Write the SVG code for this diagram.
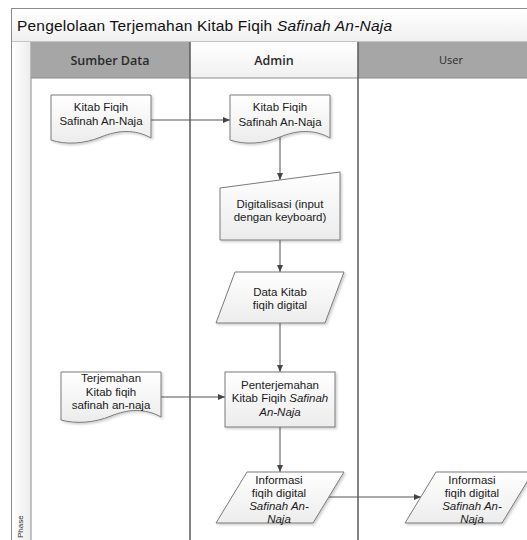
<svg xmlns="http://www.w3.org/2000/svg" width="527" height="540" viewBox="0 0 527 540">
<style>
.t{font-family:"Liberation Sans",Arial,sans-serif;font-size:11.5px;fill:#1a1a1a;text-anchor:middle}
.i{font-style:italic}
.h{font-family:"Open Sans","Liberation Sans",Arial,sans-serif;font-size:12.5px;font-weight:600;fill:#2a2a2a;text-anchor:middle}
.shape{fill:url(#sg);stroke:#7a7a7a;stroke-width:1}
.lane{stroke:#5a5a5a;stroke-width:1.5;fill:none}
.conn{stroke:#555;stroke-width:1;fill:none}
</style>
<defs>
<linearGradient id="sg" x1="0" y1="0" x2="0" y2="1"><stop offset="0" stop-color="#ffffff"/><stop offset="1" stop-color="#ececec"/></linearGradient>
<linearGradient id="hg" x1="0" y1="0" x2="0" y2="1"><stop offset="0" stop-color="#ffffff"/><stop offset="1" stop-color="#f0f0f0"/></linearGradient>
<linearGradient id="stripg" x1="0" y1="0" x2="1" y2="0"><stop offset="0" stop-color="#ffffff"/><stop offset="1" stop-color="#ececec"/></linearGradient>
<filter id="sh" x="-10%" y="-10%" width="130%" height="130%"><feDropShadow dx="1.5" dy="1.5" stdDeviation="1" flood-color="#000" flood-opacity="0.2"/></filter>
<marker id="ah" markerWidth="8" markerHeight="8" refX="7" refY="4" orient="auto" markerUnits="userSpaceOnUse"><path d="M0,1 L7,4 L0,7 Z" fill="#444"/></marker>
</defs>
<rect width="527" height="540" fill="#fff"/>
<g id="frame">
<rect x="11.5" y="8.5" width="530" height="540" fill="#fff" stroke="#8c8c8c"/>
<rect x="12" y="9" width="520" height="33" fill="url(#hg)"/>
<line x1="11" y1="42" x2="527" y2="42" stroke="#999"/>
<text x="17" y="31" font-family="'Liberation Sans',Arial,sans-serif" font-size="15.5" fill="#111" textLength="375" lengthAdjust="spacing">Pengelolaan Terjemahan Kitab Fiqih <tspan font-style="italic">Safinah An-Naja</tspan></text>
<rect x="12" y="42" width="19" height="500" fill="url(#stripg)"/>
<line x1="31" y1="42" x2="31" y2="540" stroke="#8c8c8c"/>
<text transform="translate(23,538) rotate(-90)" font-family="'Liberation Sans',Arial,sans-serif" font-size="8" fill="#333">Phase</text>
</g>
<g id="lane-sumber">
<rect x="31" y="42" width="159" height="36" fill="#a6a6a6"/>
<text class="h" x="110" y="65">Sumber Data</text>
</g>
<g id="lane-admin">
<rect x="190" y="42" width="168" height="36" fill="url(#hg)"/>
<text class="h" x="274" y="65">Admin</text>
</g>
<g id="lane-user">
<rect x="358" y="42" width="180" height="36" fill="#a6a6a6"/>
<text class="h" x="451" y="64" style="font-weight:normal;font-size:11px">User</text>
</g>
<g id="lanelines">
<line x1="31" y1="78" x2="527" y2="78" stroke="#8c8c8c"/>
<line class="lane" x1="190" y1="42" x2="190" y2="540"/>
<line class="lane" x1="358" y1="42" x2="358" y2="540"/>
</g>
<g id="connectors">
<line class="conn" x1="151" y1="120" x2="230" y2="120" marker-end="url(#ah)"/>
<line class="conn" x1="280" y1="137" x2="280" y2="180" marker-end="url(#ah)"/>
<line class="conn" x1="280" y1="240" x2="280" y2="272" marker-end="url(#ah)"/>
<line class="conn" x1="280" y1="323" x2="280" y2="372" marker-end="url(#ah)"/>
<line class="conn" x1="161" y1="397" x2="225" y2="397" marker-end="url(#ah)"/>
<line class="conn" x1="280" y1="427" x2="280" y2="472" marker-end="url(#ah)"/>
<line class="conn" x1="329" y1="497" x2="421" y2="497" marker-end="url(#ah)"/>
</g>
<g id="doc-kitab-sumber">
<path class="shape" filter="url(#sh)" d="M51,95 H151 V138 C135,129 118,130 101,137 C84,144 66,145 51,140 Z"/>
<text class="t" x="101" y="111">Kitab Fiqih</text>
<text class="t" x="101" y="125">Safinah An-Naja</text>
</g>
<g id="doc-kitab-admin">
<path class="shape" filter="url(#sh)" d="M230,95 H330 V138 C314,129 297,130 280,137 C263,144 245,145 230,140 Z"/>
<text class="t" x="280" y="111">Kitab Fiqih</text>
<text class="t" x="280" y="126">Safinah An-Naja</text>
</g>
<g id="digitalisasi">
<path class="shape" filter="url(#sh)" d="M220,188 L340,172 V240 H220 Z"/>
<text class="t" x="280" y="208">Digitalisasi (input</text>
<text class="t" x="280" y="221">dengan keyboard)</text>
</g>
<g id="data-kitab">
<path class="shape" filter="url(#sh)" d="M235,272 H344 L325,323 H216 Z"/>
<text class="t" x="280" y="296">Data Kitab</text>
<text class="t" x="280" y="309">fiqih digital</text>
</g>
<g id="doc-terjemahan">
<path class="shape" filter="url(#sh)" d="M61,372 H161 V417 C145,408 128,409 111,416 C94,423 76,424 61,420 Z"/>
<text class="t" x="111" y="382">Terjemahan</text>
<text class="t" x="111" y="396">Kitab fiqih</text>
<text class="t" x="111" y="409">safinah an-naja</text>
</g>
<g id="penterjemahan">
<rect class="shape" filter="url(#sh)" x="225" y="372" width="110" height="55"/>
<text class="t" x="280" y="389">Penterjemahan</text>
<text class="t" x="280" y="402">Kitab Fiqih <tspan class="i">Safinah</tspan></text>
<text class="t i" x="280" y="416">An-Naja</text>
</g>
<g id="informasi-admin">
<path class="shape" filter="url(#sh)" d="M247,472 H344 L313,523 H216 Z"/>
<text class="t" x="279" y="484">Informasi</text>
<text class="t" x="279" y="497">fiqih digital</text>
<text class="t i" x="279" y="510">Safinah An-</text>
<text class="t i" x="279" y="523">Naja</text>
</g>
<g id="informasi-user">
<path class="shape" filter="url(#sh)" d="M436,472 H533 L502,523 H405 Z"/>
<text class="t" x="472" y="484">Informasi</text>
<text class="t" x="472" y="497">fiqih digital</text>
<text class="t i" x="472" y="510">Safinah An-</text>
<text class="t i" x="472" y="523">Naja</text>
</g>
</svg>
